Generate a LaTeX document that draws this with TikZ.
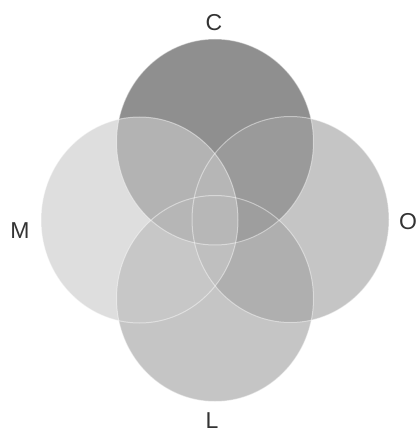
\documentclass[tikz,border=0pt]{standalone}
\usepackage{fontspec}
\setmainfont{Liberation Sans}
\usepackage{tikz}
\usetikzlibrary{positioning}

\tikzset{
  setfill/.style={fill=#1, fill opacity=0.62},
  setline/.style={draw=white, draw opacity=0.45, line width=1pt},
  setlabel/.style={font=\fontsize{23}{28}\selectfont, text=black!80, inner sep=0pt}
}

\begin{document}
\begin{tikzpicture}[x=1pt, y=-1pt]
    \useasboundingbox (0,0) rectangle (416,433);
    % C (darkest, drawn first)
    \fill[setfill=black!71] (215,142) ellipse [x radius=98.5, y radius=103];
    % O
    \fill[setfill=black!37] (290.5,219.5) ellipse [x radius=98.5, y radius=103];
    % L
    \fill[setfill=black!37] (215,298.5) ellipse [x radius=98.5, y radius=103];
    % M (lightest, on top)
    \fill[setfill=black!21] (139.5,220) ellipse [x radius=98.5, y radius=103];
    % outlines
    \draw[setline] (215,142) ellipse [x radius=98.5, y radius=103];
    \draw[setline] (290.5,219.5) ellipse [x radius=98.5, y radius=103];
    \draw[setline] (215,298.5) ellipse [x radius=98.5, y radius=103];
    \draw[setline] (139.5,220) ellipse [x radius=98.5, y radius=103];
    % labels
    \node[setlabel] (labC) at (214,23) {C};
    \node[setlabel] (labM) at (20,231) {M};
    \node[setlabel] (labO) at (408,222) {O};
    \node[setlabel] (labL) at (212,421) {L};
\end{tikzpicture}
\end{document}
